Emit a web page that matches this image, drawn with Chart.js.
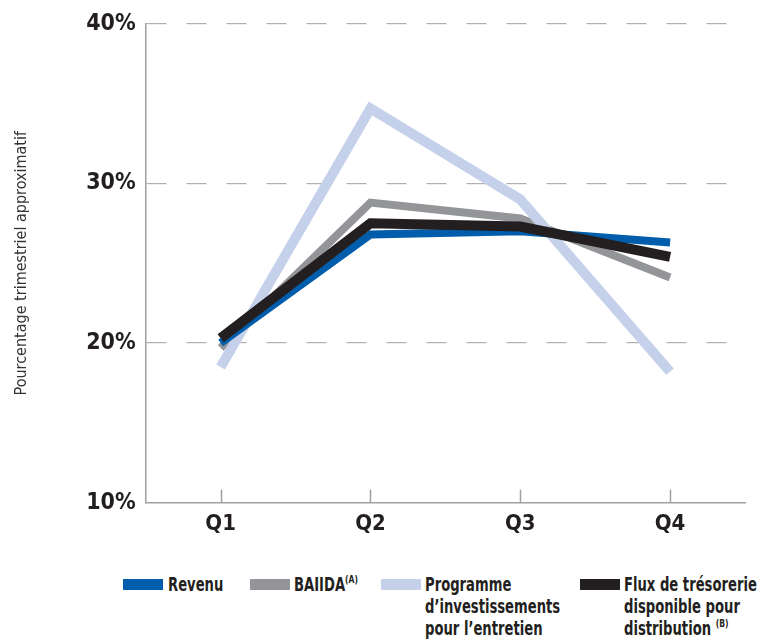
<!DOCTYPE html>
<html lang="fr">
<head>
  <meta charset="UTF-8">
  <title>Pourcentage trimestriel approximatif</title>
  <script src="https://cdn.jsdelivr.net/npm/chart.js"></script>
  <style>
    body {
      margin: 0;
      padding: 0;
      background: #fff;
      font-family: "DejaVu Sans Condensed", Arial, sans-serif;
    }
    .wrap {
      position: relative;
      width: 767px;
      height: 640px;
    }
    .chart-box {
      position: absolute;
      left: 0;
      top: 0;
      width: 767px;
      height: 545px;
    }
    .legend {
      position: absolute;
      top: 573px;
      left: 0;
      width: 767px;
      height: 67px;
    }
    .legend .item {
      position: absolute;
      top: 0;
      font-weight: bold;
      font-size: 19px;
      line-height: 22px;
      color: #231f20;
    }
    .legend .sw {
      position: absolute;
      top: 6px;
      width: 40px;
      height: 11px;
    }
    .legend .txt {
      position: absolute;
      top: 0;
      white-space: nowrap;
      transform: scaleX(0.77);
      transform-origin: 0 0;
    }
    .legend sup {
      font-size: 11px;
      vertical-align: 8px;
      line-height: 0;
    }
  </style>
</head>
<body>
  <div class="wrap">
    <div class="chart-box">
      <canvas id="chart"></canvas>
    </div>
    <div class="legend" id="legend"></div>
  </div>

  <script>
    // quarters and values (% approx)
    const quarters = ['Q1', 'Q2', 'Q3', 'Q4'];
    const revenu = [20.0, 26.8, 27.0, 26.3];
    const baiida = [19.7, 28.8, 27.8, 24.1];
    const programme = [18.5, 34.7, 29.0, 18.2];
    const flux = [20.3, 27.5, 27.3, 25.4];
    const yTicks = [10, 20, 30, 40];

    const series = [
      { label: 'Revenu', data: revenu, color: '#005dab', width: 8, order: 2 },
      { label: 'BAIIDA', data: baiida, color: '#939598', width: 8, order: 4 },
      { label: 'Programme d\u2019investissements pour l\u2019entretien', data: programme, color: '#c5d0ea', width: 10, order: 3 },
      { label: 'Flux de trésorerie disponible pour distribution', data: flux, color: '#231f20', width: 10, order: 1 }
    ];

    // small upward tick marks on the x axis
    const upTicks = {
      id: 'upTicks',
      afterDatasetsDraw(chart) {
        const x = chart.scales.x;
        const c = chart.ctx;
        c.save();
        c.strokeStyle = '#a0a0a0';
        c.lineWidth = 1.5;
        quarters.forEach((q, i) => {
          const px = Math.round(x.getPixelForTick(i)) + 0.5;
          c.beginPath();
          c.moveTo(px, x.top);
          c.lineTo(px, x.top - 13);
          c.stroke();
        });
        c.restore();
      }
    };

    const tickFont = '"DejaVu Sans Condensed", sans-serif';

    const ctx = document.getElementById('chart').getContext('2d');
    new Chart(ctx, {
      type: 'line',
      data: {
        labels: quarters,
        datasets: series.map(s => ({
          label: s.label,
          data: s.data,
          borderColor: s.color,
          backgroundColor: s.color,
          borderWidth: s.width,
          borderJoinStyle: 'miter',
          borderCapStyle: 'butt',
          pointRadius: 0,
          tension: 0,
          fill: false,
          order: s.order
        }))
      },
      options: {
        responsive: true,
        maintainAspectRatio: false,
        animation: false,
        layout: { padding: { top: 14, right: 22, left: 8, bottom: 0 } },
        plugins: {
          legend: { display: false },
          tooltip: { enabled: false }
        },
        scales: {
          x: {
            offset: true,
            grid: { display: false, drawTicks: false },
            border: { color: '#a0a0a0', width: 1.5 },
            ticks: {
              color: '#231f20',
              padding: 8,
              font: { family: tickFont, size: 22, weight: 'bold' }
            }
          },
          y: {
            min: 10,
            max: 40,
            afterBuildTicks: axis => { axis.ticks = yTicks.map(v => ({ value: v })); },
            grid: {
              color: ctx => ctx.tick.value === 10 ? 'rgba(0,0,0,0)' : '#b0b0b0',
              lineWidth: 1.2,
              drawTicks: false
            },
            border: { color: '#a0a0a0', width: 1.5, dash: [20, 20], dashOffset: 0, display: true },
            ticks: {
              color: '#231f20',
              padding: 10,
              callback: v => v + '%',
              font: { family: tickFont, size: 23, weight: 'bold' }
            },
            title: {
              display: true,
              text: 'Pourcentage trimestriel approximatif',
              color: '#333',
              padding: { bottom: 45 },
              font: { family: tickFont, size: 16 }
            }
          }
        }
      },
      plugins: [upTicks]
    });

    // html legend, so the long labels can wrap like the original
    const legendPos = [
      { sw: 123, tx: 168, html: 'Revenu' },
      { sw: 250, tx: 294, html: 'BAIIDA<sup>(A)</sup>' },
      { sw: 381, tx: 425, html: 'Programme<br>d\u2019investissements<br>pour l\u2019entretien' },
      { sw: 580, tx: 624, html: 'Flux de trésorerie<br>disponible pour<br>distribution <sup>(B)</sup>' }
    ];
    const legend = document.getElementById('legend');
    series.forEach((s, i) => {
      const p = legendPos[i];
      const item = document.createElement('div');
      item.className = 'item';
      item.innerHTML = '<div class="sw" style="left:' + p.sw + 'px;background:' + s.color + '"></div>' +
        '<div class="txt" style="left:' + p.tx + 'px">' + p.html + '</div>';
      legend.appendChild(item);
    });
  </script>
</body>
</html>
